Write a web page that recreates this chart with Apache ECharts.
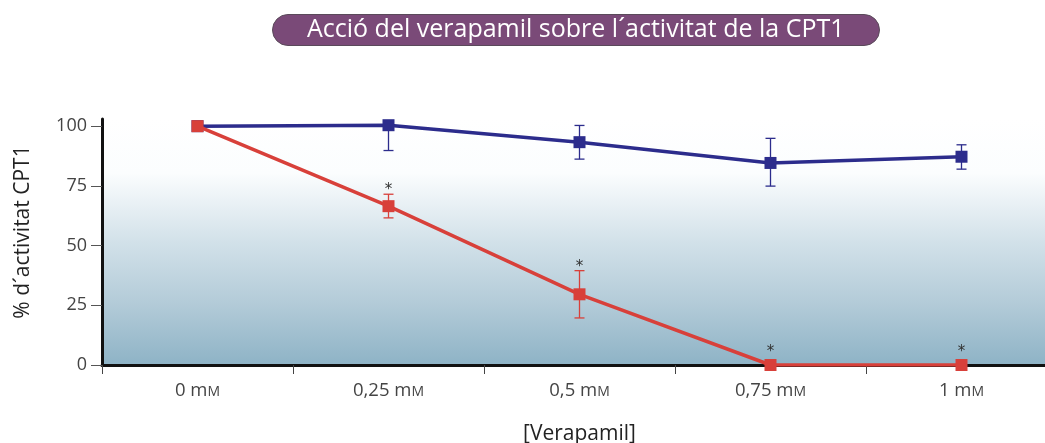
<!DOCTYPE html>
<html>
<head>
<meta charset="utf-8">
<script src="https://cdn.jsdelivr.net/npm/echarts@6/dist/echarts.min.js"></script>
<style>
  html, body { margin: 0; padding: 0; background: #fff; }
  #main { width: 1045px; height: 443px; }
</style>
</head>
<body>
<div id="main"></div>
<script>
  // dades del gràfic
  var categories = ['0 mM', '0,25 mM', '0,5 mM', '0,75 mM', '1 mM'];
  var yTicks = [0, 25, 50, 75, 100];
  var controlValues = [100, 100.4, 93.3, 84.6, 87.2];
  var controlLow = [null, 89.8, 86.2, 74.9, 82];
  var controlHigh = [null, 100.4, 100.3, 94.9, 92.2];
  var verapamilValues = [100, 66.5, 29.6, 0, 0];
  var verapamilLow = [null, 61.6, 19.7, null, null];
  var verapamilHigh = [null, 71.5, 39.5, null, null];
  var starPos = [null, 74.4, 42.1, 6.6, 6.6];

  var blue = '#2c2c8c';
  var red = '#d8403a';

  function errorData(low, high) {
    var out = [];
    low.forEach(function (v, i) {
      if (v != null) out.push([i, v, high[i]]);
    });
    return out;
  }

  function errorBar(color) {
    return function (params, api) {
      var x = api.value(0);
      var lo = api.coord([x, api.value(1)]);
      var hi = api.coord([x, api.value(2)]);
      var w = 5;
      var style = { stroke: color, lineWidth: 1.3 };
      return {
        type: 'group',
        children: [
          { type: 'line', shape: { x1: lo[0], y1: lo[1], x2: hi[0], y2: hi[1] }, style: style },
          { type: 'line', shape: { x1: lo[0] - w, y1: lo[1], x2: lo[0] + w, y2: lo[1] }, style: style },
          { type: 'line', shape: { x1: hi[0] - w, y1: hi[1], x2: hi[0] + w, y2: hi[1] }, style: style }
        ]
      };
    };
  }

  // asteriscs de significació
  var starData = [];
  starPos.forEach(function (v, i) {
    if (v != null) starData.push([i, v]);
  });

  var myChart = echarts.init(document.getElementById('main'));
  myChart.setOption({
    animation: false,
    textStyle: { fontFamily: 'Open Sans' },
    title: {
      text: 'Acció del verapamil sobre l\u00b4activitat de la CPT1',
      left: 272,
      top: 14,
      padding: [1, 35, 2, 35],
      backgroundColor: '#7a4a78',
      borderColor: '#5a4a5a',
      borderWidth: 1,
      borderRadius: 16,
      textStyle: { color: '#fff', fontSize: 25, lineHeight: 29, fontWeight: 'normal', fontFamily: 'Open Sans' }
    },
    grid: {
      left: 102,
      right: -12,
      top: 119,
      bottom: 78,
      outerBoundsMode: 'none',
      show: true,
      borderWidth: 0,
      backgroundColor: new echarts.graphic.LinearGradient(0, 0, 0, 1, [
        { offset: 0, color: '#ffffff' },
        { offset: 0.22, color: '#fbfdfe' },
        { offset: 0.5, color: '#d2e1e9' },
        { offset: 0.75, color: '#b3cbd8' },
        { offset: 1, color: '#8eb3c6' }
      ])
    },
    xAxis: {
      type: 'category',
      data: categories,
      name: '[Verapamil]',
      nameLocation: 'middle',
      nameGap: 59,
      nameTextStyle: { fontSize: 21, color: '#222' },
      axisLine: { lineStyle: { color: '#111', width: 3 } },
      axisTick: { show: true, length: 9, lineStyle: { color: '#444', width: 1 } },
      axisLabel: {
        margin: 16,
        color: '#444',
        fontSize: 18.5,
        formatter: function (v) { return v.replace('mM', 'm{sc|M}'); },
        rich: { sc: { fontSize: 14, color: '#444', padding: [3, 0, 0, 0] } }
      }
    },
    yAxis: {
      type: 'value',
      min: 0,
      max: 103,
      name: '% d\u00b4activitat CPT1',
      nameLocation: 'middle',
      nameGap: 68,
      nameRotate: 90,
      nameTextStyle: { fontSize: 21, color: '#222', padding: [0, 0, 0, 20] },
      splitLine: { show: false },
      axisLine: { show: true, lineStyle: { color: '#111', width: 3 } },
      axisTick: { show: true, length: 11, customValues: yTicks, lineStyle: { color: '#555', width: 1 } },
      axisLabel: { customValues: yTicks, margin: 15, color: '#444', fontSize: 18 }
    },
    series: [
      {
        type: 'custom',
        renderItem: errorBar(blue),
        data: errorData(controlLow, controlHigh),
        z: 1
      },
      {
        type: 'custom',
        renderItem: errorBar(red),
        data: errorData(verapamilLow, verapamilHigh),
        z: 1
      },
      {
        name: 'control',
        type: 'line',
        data: controlValues,
        symbol: 'rect',
        symbolSize: 12,
        itemStyle: { color: blue },
        lineStyle: { color: blue, width: 3.5 },
        z: 3
      },
      {
        name: 'verapamil',
        type: 'line',
        data: verapamilValues,
        symbol: 'rect',
        symbolSize: 12,
        itemStyle: { color: red },
        lineStyle: { color: red, width: 3.5 },
        z: 4
      },
      {
        type: 'custom',
        data: starData,
        renderItem: function (params, api) {
          var p = api.coord([api.value(0), api.value(1)]);
          return {
            type: 'text',
            x: p[0],
            y: p[1] + 3,
            style: { text: '*', fill: '#333', fontSize: 15, align: 'center', verticalAlign: 'middle', fontFamily: 'DejaVu Sans' }
          };
        },
        z: 5
      }
    ]
  });
</script>
</body>
</html>
